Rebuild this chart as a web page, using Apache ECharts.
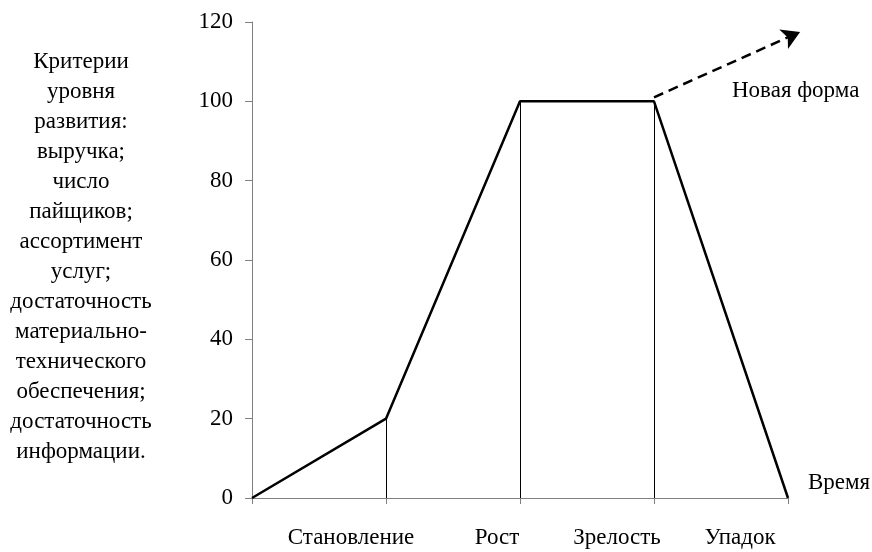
<!DOCTYPE html>
<html>
<head>
<meta charset="utf-8">
<script src="https://cdn.jsdelivr.net/npm/echarts@6/dist/echarts.min.js"></script>
<style>
  html, body { margin: 0; padding: 0; background: #fff; }
  #main { width: 872px; height: 552px; }
</style>
</head>
<body>
<div id="main"></div>
<script>
// stages of the life cycle (category labels between ticks)
var stages = ['Становление', 'Рост', 'Зрелость', 'Упадок'];
// stage boundaries on the time axis and the level at each of them
var stagePos = [0, 1, 2, 3, 4];
var level = [0, 20, 100, 100, 0];
// dashed "new form" arrow: from the end of maturity up and to the right
var arrowFrom = [3, 100];
var arrowTo = [4.09, 117.5];

var leftText = [
  'Критерии', 'уровня', 'развития:', 'выручка;', 'число', 'пайщиков;',
  'ассортимент', 'услуг;', 'достаточность', 'материально-', 'технического',
  'обеспечения;', 'достаточность', 'информации.'
];

var font = "'Liberation Serif', 'Times New Roman', serif";
var fs = 23;
var axisGray = '#808080';
// the stage captions sit a little right of their segment centres (px)
var captionShift = [32, 44, 30, 19];

var myChart = echarts.init(document.getElementById('main'));

var lineData = [];
for (var i = 0; i < stagePos.length; i++) {
  lineData.push([stagePos[i], level[i]]);
}

var stageItems = stages.map(function (s, k) {
  return { value: s, textStyle: { padding: [0, 0, 0, captionShift[k] * 2] } };
});

// thin verticals at inner boundaries, from the axis up to the curve
var guides = [];
for (var j = 1; j < stagePos.length - 1; j++) {
  guides.push([{ coord: [stagePos[j], 0] }, { coord: [stagePos[j], level[j]] }]);
}

var option = {
  animation: false,
  backgroundColor: '#fff',
  grid: { left: 252, right: 84, top: 22, bottom: 54 },
  xAxis: [
    {
      type: 'category',
      data: stageItems,
      boundaryGap: true,
      axisLine: { lineStyle: { color: axisGray, width: 1 } },
      axisTick: { show: true, length: 6, lineStyle: { color: axisGray } },
      axisLabel: { interval: 0, color: '#000', fontFamily: font, fontSize: fs, margin: 28, hideOverlap: false },
      splitLine: { show: false }
    },
    {
      type: 'value',
      min: 0,
      max: 4,
      show: false
    }
  ],
  yAxis: {
    type: 'value',
    min: 0,
    max: 120,
    interval: 20,
    axisLine: { show: true, lineStyle: { color: axisGray, width: 1 } },
    axisTick: { show: true, length: 7, lineStyle: { color: axisGray } },
    axisLabel: { color: '#000', fontFamily: font, fontSize: fs, margin: 19 },
    splitLine: { show: false }
  },
  series: [
    {
      type: 'line',
      xAxisIndex: 1,
      data: lineData,
      symbol: 'none',
      lineStyle: { color: '#000', width: 2.5 },
      z: 5
    },
    {
      type: 'line',
      xAxisIndex: 1,
      data: [],
      markLine: {
        silent: true,
        symbol: 'none',
        label: { show: false },
        lineStyle: { color: '#000', width: 1, type: 'solid' },
        emphasis: { disabled: true },
        data: guides
      }
    },
    {
      id: 'arrow',
      type: 'line',
      xAxisIndex: 1,
      data: [],
      markLine: {
        silent: true,
        symbol: ['none', 'arrow'],
        symbolSize: [16, 18],
        label: { show: false },
        lineStyle: { color: '#000', width: 2.5, type: [10, 6] },
        emphasis: { disabled: true },
        data: []
      }
    }
  ],
  graphic: [
    {
      type: 'text',
      x: 81,
      y: 47,
      style: {
        text: leftText.join('\n'),
        fill: '#000',
        font: fs + 'px ' + font,
        lineHeight: 30,
        align: 'center',
        verticalAlign: 'top'
      }
    },
    {
      type: 'text',
      x: 732,
      y: 91,
      style: { text: 'Новая форма', fill: '#000', font: fs + 'px ' + font, align: 'left', verticalAlign: 'middle' }
    },
    {
      type: 'text',
      x: 808,
      y: 483,
      style: { text: 'Время', fill: '#000', font: fs + 'px ' + font, align: 'left', verticalAlign: 'middle' }
    }
  ]
};

myChart.setOption(option);

// the arrow runs past the axis end, so place it through the axis scales in pixels
var p0 = myChart.convertToPixel({ xAxisIndex: 1, yAxisIndex: 0 }, arrowFrom);
var p1 = myChart.convertToPixel({ xAxisIndex: 1, yAxisIndex: 0 }, arrowTo);
myChart.setOption({
  series: [{
    id: 'arrow',
    markLine: { data: [[{ x: p0[0], y: p0[1] - 4 }, { x: p1[0], y: p1[1] }]] }
  }]
});
</script>
</body>
</html>
